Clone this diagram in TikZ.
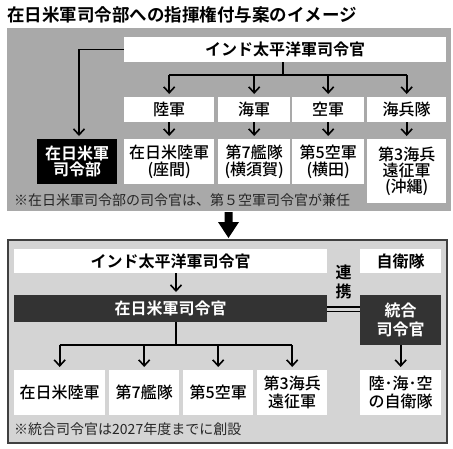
\documentclass[tikz,border=0pt]{standalone}
\usepackage{fontspec}
\newfontfamily\jp{Noto Sans CJK JP}[BoldFont={Noto Sans CJK JP Bold}]
\newfontfamily\jpm{Noto Sans CJK JP Medium}
\usetikzlibrary{arrows.meta}
\definecolor{panelA}{HTML}{A9A9A9}
\definecolor{panelB}{HTML}{D4D4D4}
\definecolor{darkbox}{HTML}{333333}
\definecolor{framec}{HTML}{404040}
\tikzset{
  wbox/.style={fill=white, inner sep=0pt, anchor=north west, align=center, font=\jpm\fontsize{16}{16}\selectfont},
  hbox/.style={wbox, font=\jp\bfseries\fontsize{16}{16}\selectfont},
  bbox/.style={fill=black, text=white, inner sep=0pt, anchor=north west, align=center, font=\jp\bfseries\fontsize{16}{16}\selectfont},
  dbox/.style={fill=darkbox, text=white, inner sep=0pt, anchor=north west, align=center, font=\jp\bfseries\fontsize{16}{19}\selectfont},
  conn/.style={line width=1.6pt, black},
  arr/.style={conn, shorten >=3pt, -{Straight Barb[length=6pt,width=11pt,line width=1.6pt]}},
  note/.style={anchor=west, inner sep=0pt, text=black!85, font=\jp\fontsize{14}{16}\selectfont},
}
\begin{document}
\begin{tikzpicture}[x=1pt,y=-1pt]
\useasboundingbox (0,0) rectangle (453,448);
% title
\node[anchor=west, inner sep=0pt, font=\jp\bfseries\fontsize{17.5}{20}\selectfont] (title) at (7,15) {在日米軍司令部への指揮権付与案のイメージ};
% top panel
\fill[panelA] (7,28) rectangle (451,211);
\node[hbox, minimum width=322pt, minimum height=25pt] (ipcA) at (124,37) {インド太平洋軍司令官};
\node[wbox, minimum width=90pt, minimum height=25pt] (armyA) at (124,97) {陸軍};
\node[wbox, minimum width=72pt, minimum height=25pt] (navyA) at (218,97) {海軍};
\node[wbox, minimum width=72pt, minimum height=25pt] (afA) at (292,97) {空軍};
\node[wbox, minimum width=79pt, minimum height=25pt] (marA) at (367,97) {海兵隊};
\node[wbox, minimum width=90pt, minimum height=45pt, font=\jpm\fontsize{16}{16.5}\selectfont] (zama) at (124,139) {在日米陸軍\\(座間)};
\node[wbox, minimum width=72pt, minimum height=45pt, font=\jpm\fontsize{16}{16.5}\selectfont] (fleet) at (218,139) {第7艦隊\\(横須賀)};
\node[wbox, minimum width=72pt, minimum height=45pt, font=\jpm\fontsize{16}{16.5}\selectfont] (yokota) at (292,139) {第5空軍\\(横田)};
\node[wbox, minimum width=79pt, minimum height=64pt, font=\jpm\fontsize{16}{16}\selectfont] (okinawa) at (367,139) {第3海兵\\遠征軍\\(沖縄)};
\node[bbox, minimum width=80pt, minimum height=45pt] (hqA) at (37,139) {在日米軍\\司令部};
\node[note] (noteA) at (14,200) {※在日米軍司令部の司令官は、第５空軍司令官が兼任};
% connectors top
\coordinate (cA) at (79,49.5);
\draw[arr] (ipcA.west |- cA) -- (cA) -- (cA |- hqA.north);
\coordinate (sA) at (283,75);
\draw[conn] (sA |- ipcA.south) -- (sA);
\draw[conn] (armyA.north |- sA) -- (marA.north |- sA);
\foreach \n in {armyA,navyA,afA,marA} {\draw[arr] (\n.north |- sA) -- (\n.north);}
\draw[arr] (armyA.south) -- (zama.north);
\draw[arr] (navyA.south) -- (fleet.north);
\draw[arr] (afA.south) -- (yokota.north);
\draw[arr] (marA.south) -- (okinawa.north);
% big arrow
\fill[black] (224.5,212) -- (232.5,212) -- (232.5,222) -- (239,222) -- (228.5,238) -- (218,222) -- (224.5,222) -- cycle;
% bottom panel
\draw[fill=panelB, draw=framec, line width=2pt] (8,240) rectangle (447,443);
\node[hbox, minimum width=313pt, minimum height=24pt] (ipcB) at (14,249) {インド太平洋軍司令官};
\node[hbox, minimum width=81pt, minimum height=24pt] (jsdf) at (360,249) {自衛隊};
\node[inner sep=0pt, align=center, font=\jp\bfseries\fontsize{16}{19}\selectfont] (renkei) at (343.5,282) {連\\携};
\node[dbox, minimum width=313pt, minimum height=27pt] (hqB) at (14,295) {在日米軍司令官};
\node[dbox, minimum width=81pt, minimum height=50pt] (joint) at (360,295) {統合\\司令官};
\node[wbox, minimum width=91pt, minimum height=45pt] (b1) at (14,370) {在日米陸軍};
\node[wbox, minimum width=70pt, minimum height=45pt] (b2) at (109,370) {第7艦隊};
\node[wbox, minimum width=70pt, minimum height=45pt] (b3) at (183,370) {第5空軍};
\node[wbox, minimum width=70pt, minimum height=45pt, font=\jpm\fontsize{16}{18}\selectfont] (b4) at (257,370) {第3海兵\\遠征軍};
\node[wbox, minimum width=81pt, minimum height=45pt, font=\jpm\fontsize{16}{18}\selectfont] (jsdfB) at (360,370) {陸･海･空\\の自衛隊};
\node[note] (noteB) at (14,429) {※統合司令官は2027年度までに創設};
% connectors bottom
\draw[arr] (176,273) -- (176,295);
\draw[line width=1.1pt] (hqB.east |- 0,307) -- (joint.west |- 0,307);
\draw[line width=1.1pt] (hqB.east |- 0,311.5) -- (joint.west |- 0,311.5);
\coordinate (sB) at (176,345);
\draw[conn] (sB |- hqB.south) -- (sB);
\draw[conn] (b1.north |- sB) -- (b4.north |- sB);
\foreach \n in {b1,b2,b3,b4} {\draw[arr] (\n.north |- sB) -- (\n.north);}
\draw[arr] (joint.south) -- (jsdfB.north);
\end{tikzpicture}
\end{document}
